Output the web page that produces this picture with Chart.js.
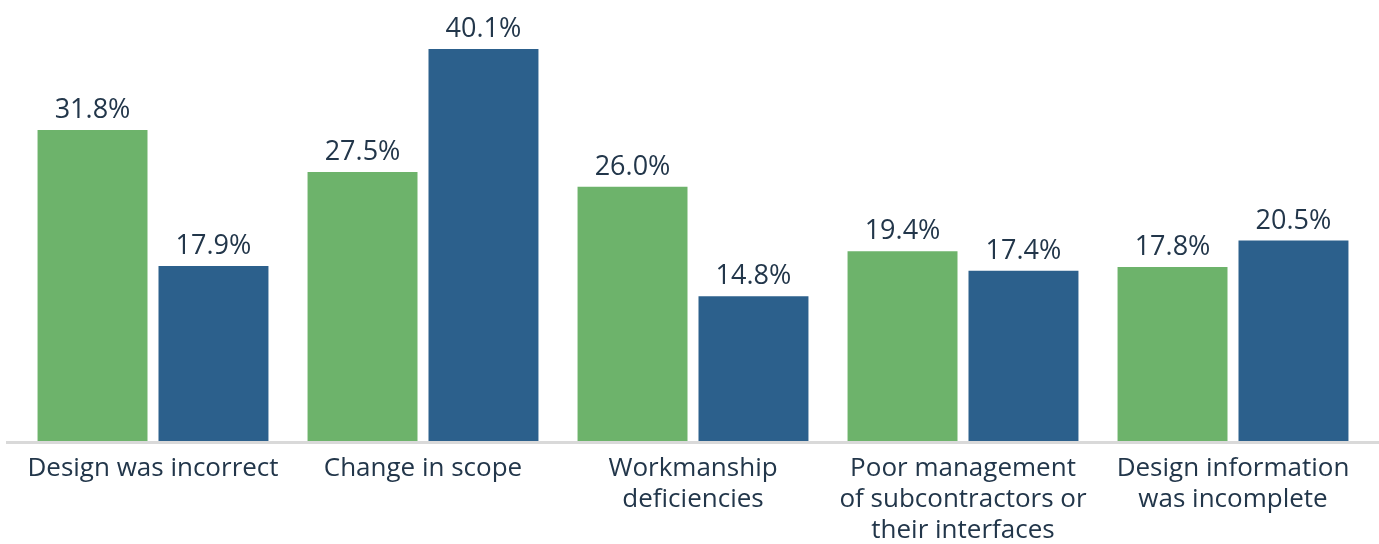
<!DOCTYPE html>
<html>
<head>
<meta charset="utf-8">
<script src="https://cdn.jsdelivr.net/npm/chart.js@4"></script>
<style>
  html, body { margin: 0; padding: 0; background: #fff; }
  #wrap { width: 1379px; height: 544px; position: relative; }
</style>
</head>
<body>
<div id="wrap"><canvas id="causesChart"></canvas></div>
<script>
var categories = [
  "Design was incorrect",
  ["Change in scope"],
  ["Workmanship", "deficiencies"],
  ["Poor management", "of subcontractors or", "their interfaces"],
  ["Design information", "was incomplete"]
];
var greenValues = [31.8, 27.5, 26.0, 19.4, 17.8];
var blueValues = [17.9, 40.1, 14.8, 17.4, 20.5];

var textColor = "#22364a";

// value labels above each bar
var valueLabels = {
  id: "valueLabels",
  afterDatasetsDraw: function (chart) {
    var ctx = chart.ctx;
    ctx.save();
    ctx.font = "27px 'Open Sans'";
    ctx.fillStyle = textColor;
    ctx.textAlign = "center";
    ctx.textBaseline = "alphabetic";
    chart.data.datasets.forEach(function (ds, i) {
      chart.getDatasetMeta(i).data.forEach(function (bar, j) {
        ctx.fillText(ds.data[j].toFixed(1) + "%", bar.x, bar.y - 12);
      });
    });
    ctx.restore();
  }
};

// grey baseline across the whole width
var baseLine = {
  id: "baseLine",
  afterDatasetsDraw: function (chart) {
    var ctx = chart.ctx;
    var y = chart.scales.y.getPixelForValue(0);
    ctx.save();
    ctx.fillStyle = "#d9d9d9";
    ctx.fillRect(6, y, chart.width - 6, 3);
    ctx.restore();
  }
};

var ctx = document.getElementById("causesChart").getContext("2d");
var chart = new Chart(ctx, {
  type: "bar",
  data: {
    labels: categories,
    datasets: [{
      data: greenValues,
      backgroundColor: "#6db36b",
      categoryPercentage: 0.896,
      barPercentage: 0.909
    }, {
      data: blueValues,
      backgroundColor: "#2c608c",
      categoryPercentage: 0.896,
      barPercentage: 0.909
    }]
  },
  options: {
    responsive: true,
    maintainAspectRatio: false,
    animation: false,
    layout: { padding: { left: 18, right: 11, top: 1, bottom: -14 } },
    plugins: {
      legend: { display: false },
      tooltip: { enabled: false }
    },
    scales: {
      x: {
        grid: { display: false, drawTicks: false },
        border: { display: false },
        ticks: {
          color: textColor,
          font: { family: "Open Sans", size: 26, lineHeight: "31px" },
          padding: 12,
          maxRotation: 0,
          autoSkip: false
        }
      },
      y: {
        display: false,
        min: 0,
        max: 45
      }
    }
  },
  plugins: [valueLabels, baseLine]
});
</script>
</body>
</html>
